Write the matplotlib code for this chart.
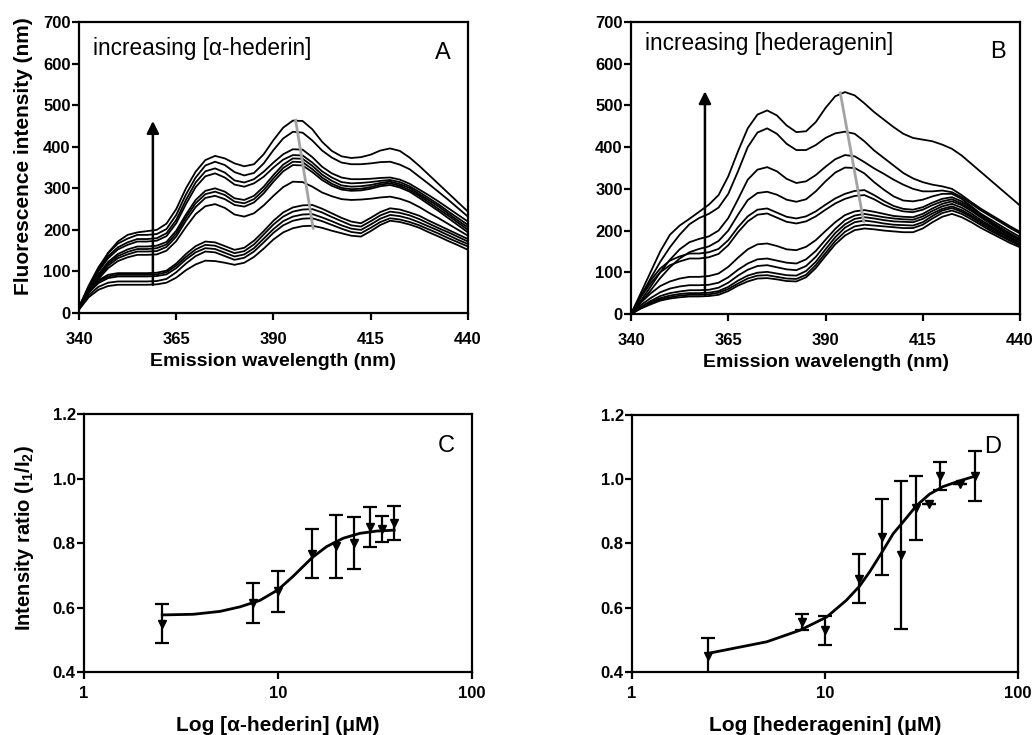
import numpy as np
import matplotlib
matplotlib.use("Agg")
from matplotlib import pyplot as plt

plt.rcParams['font.family'] = ['Liberation Sans', 'DejaVu Sans']
plt.rcParams['mathtext.fontset'] = 'custom'
plt.rcParams['mathtext.rm'] = 'Liberation Sans:bold'
plt.rcParams['mathtext.bf'] = 'Liberation Sans:bold'

# emission scans, 340-440 nm every 2.5 nm
wavelength = np.arange(340, 440.1, 2.5)

# panel A: spectra with increasing alpha-hederin
spectra_hederin = [
    [15, 60, 105, 145, 172, 188, 194, 197, 200, 215, 250, 300, 340, 368, 378, 372, 360, 353, 358, 382, 416,
     446, 463, 462, 442, 412, 390, 377, 373, 375, 381, 391, 396, 390, 374, 354, 332, 310, 288, 266, 244],
    [14, 66, 110, 144, 167, 179, 188, 188, 190, 202, 236, 285, 326, 355, 364, 356, 339, 331, 337, 360, 392,
     420, 436, 434, 415, 391, 374, 362, 358, 358, 360, 363, 364, 357, 346, 328, 310, 291, 272, 252, 232],
    [13, 63, 104, 137, 158, 170, 178, 178, 180, 192, 224, 272, 314, 341, 348, 338, 319, 314, 322, 340, 362,
     382, 394, 393, 375, 352, 336, 326, 322, 322, 323, 325, 326, 321, 311, 297, 283, 268, 252, 236, 220],
    [13, 61, 100, 132, 153, 164, 172, 172, 174, 185, 216, 262, 303, 329, 336, 326, 309, 304, 312, 328, 350,
     369, 380, 379, 362, 341, 326, 315, 312, 313, 315, 318, 320, 315, 305, 291, 276, 261, 244, 228, 212],
    [12, 56, 93, 123, 142, 153, 160, 160, 162, 171, 198, 237, 272, 294, 300, 292, 276, 272, 282, 304, 332,
     357, 372, 371, 354, 333, 318, 307, 304, 305, 308, 313, 316, 310, 301, 286, 271, 256, 239, 222, 206],
    [12, 55, 90, 119, 137, 147, 154, 154, 156, 165, 191, 230, 264, 286, 292, 284, 268, 264, 274, 296, 324,
     349, 364, 363, 346, 326, 311, 301, 298, 299, 303, 309, 312, 306, 296, 282, 266, 250, 234, 217, 200],
    [11, 52, 86, 114, 132, 141, 148, 148, 149, 159, 184, 222, 255, 277, 282, 274, 260, 256, 266, 288, 316,
     341, 356, 355, 339, 320, 306, 297, 294, 295, 299, 305, 308, 302, 292, 277, 261, 245, 228, 211, 194],
    [11, 50, 82, 108, 125, 134, 140, 140, 141, 150, 173, 207, 238, 257, 262, 253, 237, 232, 240, 259, 282,
     303, 316, 315, 304, 290, 281, 274, 272, 273, 275, 278, 280, 275, 267, 255, 241, 228, 214, 200, 186],
    [10, 53, 79, 92, 96, 96, 96, 96, 97, 102, 119, 142, 161, 172, 170, 161, 152, 157, 174, 197, 222,
     242, 254, 259, 260, 251, 240, 229, 220, 216, 229, 243, 252, 249, 242, 234, 222, 211, 200, 189, 178],
    [10, 51, 76, 88, 92, 92, 92, 92, 93, 98, 114, 135, 153, 164, 162, 153, 144, 149, 165, 189, 213,
     232, 244, 249, 250, 242, 231, 221, 211, 208, 221, 235, 244, 241, 235, 226, 215, 204, 194, 183, 172],
    [9, 49, 72, 84, 88, 88, 88, 88, 89, 93, 108, 129, 146, 156, 154, 145, 136, 141, 156, 179, 202,
     221, 232, 237, 238, 230, 221, 211, 203, 200, 213, 227, 236, 233, 227, 218, 208, 198, 187, 176, 166],
    [9, 43, 63, 73, 76, 76, 76, 76, 77, 82, 98, 119, 137, 148, 146, 137, 128, 133, 148, 170, 193,
     211, 222, 227, 228, 221, 212, 203, 195, 192, 205, 219, 228, 225, 219, 211, 201, 191, 180, 170, 160],
    [8, 38, 56, 65, 68, 68, 68, 68, 69, 73, 85, 103, 117, 126, 125, 121, 116, 121, 135, 155, 177,
     194, 204, 209, 210, 205, 198, 192, 186, 184, 197, 212, 222, 219, 213, 205, 194, 184, 173, 163, 152],
]

# panel B: spectra with increasing hederagenin
spectra_hederagenin = [
    [0, 50, 100, 150, 190, 212, 228, 245, 262, 285, 330, 390, 445, 478, 488, 476, 452, 436, 438, 460, 494,
     522, 532, 524, 505, 484, 466, 448, 432, 422, 418, 414, 406, 396, 380, 360, 340, 320, 300, 280, 260],
    [0, 42, 85, 125, 160, 190, 215, 230, 240, 255, 288, 342, 400, 435, 445, 432, 408, 393, 393, 405, 422,
     433, 437, 432, 414, 392, 374, 356, 338, 325, 316, 310, 306, 300, 285, 268, 252, 238, 224, 210, 197],
    [0, 32, 65, 100, 130, 155, 172, 180, 186, 200, 230, 275, 322, 346, 352, 342, 324, 314, 318, 333, 353,
     371, 381, 378, 364, 349, 336, 322, 310, 300, 294, 294, 296, 292, 280, 264, 248, 234, 220, 206, 193],
    [0, 28, 56, 86, 112, 133, 148, 156, 162, 175, 200, 238, 273, 290, 293, 286, 274, 269, 275, 294, 318,
     339, 351, 350, 337, 316, 298, 282, 272, 270, 274, 282, 288, 288, 276, 258, 240, 226, 212, 198, 185],
    [0, 44, 80, 109, 128, 138, 145, 145, 148, 156, 177, 208, 234, 250, 253, 243, 233, 229, 234, 246, 262,
     277, 288, 295, 297, 285, 271, 259, 252, 250, 256, 267, 276, 280, 270, 255, 238, 222, 207, 193, 180],
    [0, 40, 73, 100, 117, 126, 133, 133, 136, 144, 165, 196, 222, 238, 241, 231, 221, 217, 222, 234, 250,
     265, 276, 283, 285, 275, 262, 252, 246, 244, 250, 261, 270, 275, 265, 251, 234, 219, 204, 191, 178],
    [0, 27, 49, 67, 78, 85, 89, 89, 91, 97, 113, 135, 155, 167, 169, 163, 155, 153, 161, 177, 199,
     220, 237, 246, 249, 245, 240, 235, 233, 232, 240, 253, 264, 270, 261, 247, 231, 216, 201, 188, 176],
    [0, 21, 38, 52, 61, 66, 69, 69, 70, 75, 88, 106, 121, 131, 133, 128, 123, 121, 131, 151, 178,
     204, 225, 236, 240, 236, 232, 229, 227, 226, 234, 247, 258, 264, 255, 241, 225, 211, 197, 184, 172],
    [0, 17, 31, 43, 50, 54, 57, 57, 58, 63, 75, 92, 106, 115, 117, 112, 107, 105, 115, 137, 166,
     194, 215, 228, 232, 229, 225, 222, 221, 220, 228, 241, 252, 258, 249, 236, 221, 207, 194, 181, 170],
    [0, 15, 28, 38, 44, 48, 50, 50, 51, 55, 65, 80, 92, 99, 101, 97, 93, 92, 103, 125, 155,
     184, 207, 220, 224, 221, 217, 214, 213, 212, 220, 235, 248, 254, 245, 232, 217, 203, 190, 177, 166],
    [0, 14, 25, 35, 40, 44, 46, 46, 47, 51, 60, 73, 85, 92, 93, 89, 85, 84, 94, 117, 146,
     175, 197, 210, 214, 212, 210, 208, 206, 206, 214, 229, 242, 248, 240, 227, 213, 199, 187, 175, 164],
    [0, 13, 23, 32, 37, 40, 42, 42, 43, 46, 55, 68, 78, 85, 86, 83, 79, 78, 88, 110, 139,
     167, 188, 201, 205, 203, 200, 198, 196, 196, 205, 220, 233, 240, 232, 220, 206, 194, 182, 170, 160],
]

# arrows (x, y start, y end) and peak-shift guide lines
arrow_A = (359, 68, 462)
arrow_B = (359, 45, 534)
peak_line_A = ([395.7, 400.2], [464, 204])
peak_line_B = ([393.8, 399.8], [530, 222])

# panel C: I1/I2 vs alpha-hederin
conc_C = [2.53, 7.45, 10.0, 15.0, 19.8, 24.6, 29.7, 34.5, 39.7]
ratio_C = [0.55, 0.615, 0.65, 0.767, 0.79, 0.80, 0.85, 0.843, 0.862]
err_C = [0.06, 0.062, 0.064, 0.075, 0.097, 0.08, 0.062, 0.04, 0.052]
fit_x_C = [2.53, 3.66, 5.02, 6.36, 8.06, 10.0, 11.97, 15.0, 17.8, 21.7, 26.4, 32.2, 39.7]
fit_y_C = [0.577, 0.579, 0.588, 0.602, 0.622, 0.655, 0.697, 0.755, 0.789, 0.815, 0.830, 0.837, 0.840]

# panel D: I1/I2 vs hederagenin
conc_D = [2.48, 7.57, 10.0, 15.1, 19.8, 24.9, 29.8, 34.7, 39.7, 49.9, 60.2]
ratio_D = [0.45, 0.555, 0.53, 0.69, 0.82, 0.765, 0.91, 0.923, 1.01, 0.985, 1.01]
err_D = [0.057, 0.025, 0.045, 0.076, 0.117, 0.23, 0.1, 0.0, 0.045, 0.0, 0.078]
fit_x_D = [2.48, 4.99, 7.42, 10.2, 12.9, 15.1, 17.1, 19.8, 22.6, 25.4, 29.8, 34.9, 40.9, 49.9, 60.2]
fit_y_D = [0.458, 0.494, 0.530, 0.571, 0.623, 0.667, 0.713, 0.774, 0.831, 0.867, 0.918, 0.954, 0.977, 0.995, 1.01]


def style_axes(ax, xpad):
    for s in ax.spines.values():
        s.set_linewidth(1.6)
    ax.tick_params(direction='out', length=5, width=1.6, top=False, right=False)
    ax.tick_params(axis='x', pad=xpad)
    ax.tick_params(axis='y', pad=1)


def spectra_panel(ax, spectra, arrow, peak_line, label, letter, text_y, letter_xy):
    for s in spectra:
        ax.plot(wavelength, s, color='k', lw=1.3)
    ax.plot(peak_line[0], peak_line[1], color='#a3a3a3', lw=2)
    ax.annotate('', xy=(arrow[0], arrow[2]), xytext=(arrow[0], arrow[1]),
                arrowprops=dict(arrowstyle='-|>', color='k', lw=1.8, mutation_scale=18,
                                shrinkA=0, shrinkB=0))
    ax.set_xlim(340, 440)
    ax.set_ylim(0, 700)
    ax.set_xticks([340, 365, 390, 415, 440], ['340', '365', '390', '415', '440'],
                  fontsize=12, fontweight='bold')
    ax.set_yticks(range(0, 701, 100), [str(v) for v in range(0, 701, 100)],
                  fontsize=12, fontweight='bold')
    ax.set_xlabel('Emission wavelength (nm)', fontsize=14, fontweight='bold', labelpad=4)
    ax.text(0.036, text_y, label, transform=ax.transAxes, fontsize=16.3, va='baseline')
    ax.text(letter_xy[0], letter_xy[1], letter, transform=ax.transAxes, fontsize=17,
            ha='center', va='center')
    style_axes(ax, 9)


def ratio_panel(ax, conc, ratio, err, fit_x, fit_y, xlabel, letter):
    ax.plot(fit_x, fit_y, color='k', lw=2)
    ax.errorbar(conc, ratio, yerr=err, fmt='v', color='k', ms=6, capsize=5,
                elinewidth=1.6, capthick=1.6)
    ax.set_xscale('log')
    ax.set_xlim(1, 100)
    ax.set_ylim(0.4, 1.2)
    ax.set_xticks([1, 10, 100], ['1', '10', '100'], fontsize=12, fontweight='bold')
    ax.minorticks_off()
    ax.set_yticks([0.4, 0.6, 0.8, 1.0, 1.2], ['0.4', '0.6', '0.8', '1.0', '1.2'],
                  fontsize=12, fontweight='bold')
    ax.set_xlabel(xlabel, fontsize=15, fontweight='bold', labelpad=11)
    ax.text(0.934, 0.877, letter, transform=ax.transAxes, fontsize=17, ha='center', va='center')
    style_axes(ax, 5)


fig = plt.figure(figsize=(10.35, 7.35), dpi=100)
axA = fig.add_axes([0.0763, 0.5741, 0.3758, 0.3959])
axB = fig.add_axes([0.6097, 0.5728, 0.3758, 0.3973])
axC = fig.add_axes([0.0812, 0.0857, 0.3749, 0.3510])
axD = fig.add_axes([0.6106, 0.0857, 0.3729, 0.3497])

spectra_panel(axA, spectra_hederin, arrow_A, peak_line_A,
              'increasing [\u03b1-hederin]', 'A', 0.887, (0.936, 0.893))
spectra_panel(axB, spectra_hederagenin, arrow_B, peak_line_B,
              'increasing [hederagenin]', 'B', 0.904, (0.943, 0.897))
axA.set_ylabel('Fluorescence intensity (nm)', fontsize=15, fontweight='bold')
axA.yaxis.set_label_coords(-0.118, 0.54)

ratio_panel(axC, conc_C, ratio_C, err_C, fit_x_C, fit_y_C,
            'Log [\u03b1-hederin] (\u03bcM)', 'C')
ratio_panel(axD, conc_D, ratio_D, err_D, fit_x_D, fit_y_D,
            'Log [hederagenin] (\u03bcM)', 'D')
axC.set_ylabel('Intensity ratio (I$_1$/I$_2$)', fontsize=14.5, fontweight='bold')
axC.yaxis.set_label_coords(-0.125, 0.52)

fig.savefig('out.png', dpi=100)
